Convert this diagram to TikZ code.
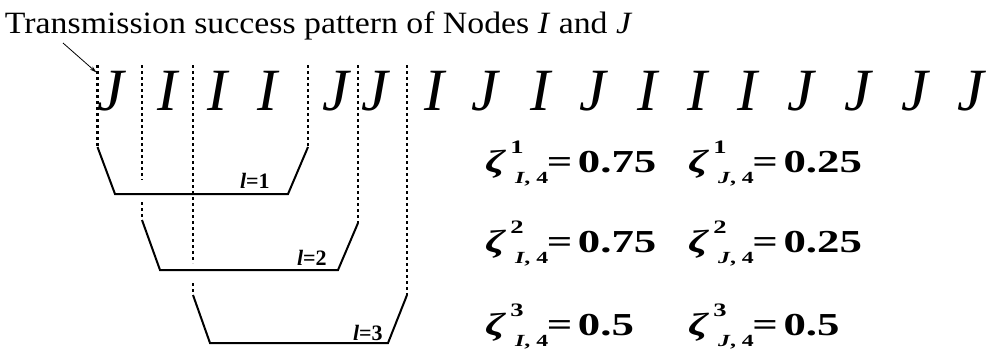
\documentclass[tikz,border=0pt]{standalone}
\usepackage{fontspec}
\setmainfont{Liberation Serif}
\usetikzlibrary{arrows.meta}

% zeta with level l (sup) and node (sub)
\newcommand{\zexpr}[3]{\textit{ζ}\hspace{3pt}\raisebox{19pt}{\fontsize{19}{19}\selectfont #1}\hspace{-6pt}\raisebox{-11pt}{\fontsize{17}{17}\selectfont\textit{#2}, 4}\hspace{-1pt}=\hspace{4pt}#3}

\begin{document}
\begin{tikzpicture}[x=1pt, y=-1pt,
    every node/.style={inner sep=0pt, outer sep=0pt},
    title/.style={anchor=base west, xscale=1.09, font=\fontsize{31}{31}\selectfont},
    letter/.style={anchor=base, font=\fontsize{60}{60}\selectfont\itshape},
    eqn/.style={anchor=base west, xscale=1.4, font=\fontsize{32}{32}\selectfont\bfseries},
    winlabel/.style={anchor=base west, font=\fontsize{22}{22}\selectfont\bfseries},
    slot/.style={line width=2.8pt, dash pattern=on 3pt off 3pt},
    window/.style={line width=2pt}]
  \useasboundingbox (0,0) rectangle (992,354);

  \node[title] (title) at (5,33) {Transmission success pattern of Nodes \textit{I} and \textit{J}};
  \coordinate (tail) at (63,43);
  \coordinate (tip) at (96.5,72.5);
  \draw[-{Stealth[length=7pt,width=4pt]}, line width=0.8pt] (tail) -- (tip);

  % success pattern
  \foreach \x/\c [count=\i] in {111/J,167/I,217/I,267/I,336/J,375/J,434/I,485/J,540/I,
      593/J,647/I,697/I,747/I,801/J,858/J,915/J,971/J}
    \node[letter] (s\i) at (\x,110) {\c};

  % window borders
  \draw[slot] (97.5,65) -- (97.5,147);
  \draw[slot] (142,65) -- (142,180);
  \draw[slot] (142,202) -- (142,220);
  \draw[slot] (193,65) -- (193,263);
  \draw[slot] (193,283) -- (193,295);
  \draw[slot] (308,65) -- (308,147);
  \draw[slot] (358,65) -- (358,223);
  \draw[slot] (407,65) -- (407,295);

  % windows l=1,2,3
  \draw[window] (97.5,147) -- (115,194) -- (288,194) -- (308,147);
  \draw[window] (142,220) -- (160,270) -- (338,270) -- (358,223);
  \draw[window] (193,295) -- (210,343) -- (388,343) -- (407,295);
  \node[winlabel] (l1) at (240,188) {\textit{l}=1};
  \node[winlabel] (l2) at (297,265) {\textit{l}=2};
  \node[winlabel] (l3) at (353,340) {\textit{l}=3};

  % ratios
  \foreach \r/\y/\a/\b in {1/172/0.75/0.25, 2/252/0.75/0.25, 3/335/0.5/0.5} {
    \node[eqn] (zi\r) at (485,\y) {\zexpr{\r}{I}{\a}};
    \node[eqn] (zj\r) at (688,\y) {\zexpr{\r}{J}{\b}};
  }
\end{tikzpicture}
\end{document}
